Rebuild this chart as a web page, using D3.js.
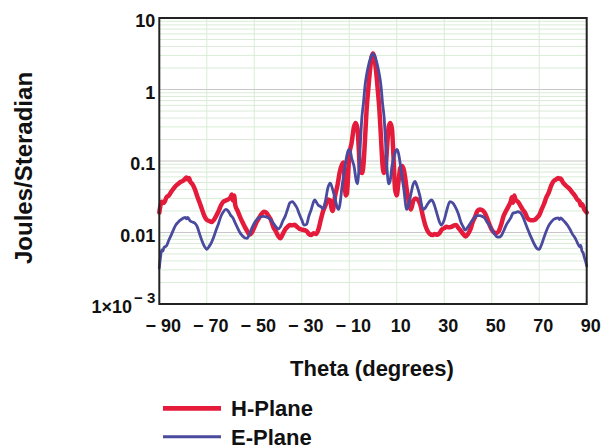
<!DOCTYPE html>
<html>
<head>
<meta charset="utf-8">
<script src="https://cdn.jsdelivr.net/npm/d3@7"></script>
<style>
  body { margin: 0; background: #fff; }
  svg { display: block; font-family: "Liberation Sans", Arial, sans-serif; font-weight: bold; }
</style>
</head>
<body>
<script>
// 차트 크기와 여백
const width = 605;
const height = 447;
const margin = {top: 18, right: 18.3, bottom: 143, left: 159.3};

// H-Plane (빨강) : theta, 값
const hTheta = [-90, -89.5, -89, -88, -87, -86, -85, -84, -83, -82, -81, -80, -79, -78.5, -78, -77.5, -77, -76, -75, -74,
  -73, -72, -71, -70, -69, -68, -67, -66, -65, -64, -63, -62, -61, -60, -59.5, -59, -58.5, -58, -57, -56,
  -55, -54, -53, -52, -51, -50, -49, -48, -47, -46, -45, -44, -43, -42, -41, -40, -39, -38, -37, -36,
  -35, -34, -33, -32, -31, -30, -29, -28, -27, -26, -25, -24, -23, -22, -21, -20, -19, -18, -17.5, -17,
  -16, -15, -14, -13, -12.5, -12, -11.5, -11, -10, -9, -8, -7.3, -6.5, -6, -5.5, -4.6, -4, -3.4, -2.7, -2,
  -1.3, -0.6, 0, 0.6, 1.3, 2, 2.7, 3.4, 4, 4.6, 5.3, 6, 6.6, 7.3, 8, 8.6, 9.3, 10, 10.7, 11.5,
  12.2, 13, 13.5, 14.2, 15, 16, 17, 18, 19, 20, 21, 22, 23, 24, 25, 26, 27, 28, 29, 30,
  31, 32, 33, 34, 35, 36, 37, 38, 39, 40, 41, 42, 43, 44, 45, 46, 47, 48, 49, 50,
  51, 52, 53, 54, 55, 56, 57, 58, 58.5, 59, 59.5, 60, 61, 62, 63, 64, 65, 66, 67, 68,
  69, 70, 71, 72, 73, 74, 75, 76, 77, 78, 78.5, 79, 80, 81, 82, 83, 84, 85, 86, 87,
  87.5, 88, 89, 90];
const hValue = [0.019, 0.024, 0.027, 0.026, 0.031, 0.033, 0.037, 0.041, 0.045, 0.048, 0.051, 0.053, 0.057, 0.059, 0.055, 0.058, 0.052, 0.047, 0.040, 0.032,
  0.026, 0.021, 0.017, 0.015, 0.0145, 0.014, 0.015, 0.0172, 0.020, 0.024, 0.027, 0.028, 0.029, 0.031, 0.034, 0.028, 0.033, 0.024, 0.020, 0.0166,
  0.014, 0.012, 0.0105, 0.0093, 0.010, 0.0118, 0.014, 0.016, 0.018, 0.0195, 0.019, 0.017, 0.015, 0.012, 0.0105, 0.009, 0.0083, 0.0095, 0.011, 0.012,
  0.0127, 0.0126, 0.0128, 0.012, 0.0113, 0.011, 0.0108, 0.0105, 0.0095, 0.0092, 0.0098, 0.0095, 0.011, 0.015, 0.020, 0.024, 0.029, 0.028, 0.022, 0.020,
  0.032, 0.045, 0.07, 0.09, 0.095, 0.06, 0.033, 0.035, 0.12, 0.18, 0.30, 0.34, 0.28, 0.15, 0.075, 0.068, 0.09, 0.19, 0.52, 1.0,
  1.8, 2.8, 3.2, 2.8, 1.8, 1.0, 0.52, 0.2, 0.09, 0.068, 0.08, 0.17, 0.30, 0.34, 0.28, 0.12, 0.04, 0.033, 0.05, 0.08,
  0.085, 0.075, 0.06, 0.04, 0.028, 0.021, 0.028, 0.030, 0.0285, 0.024, 0.017, 0.0127, 0.0105, 0.0095, 0.0092, 0.0095, 0.0093, 0.0098, 0.011, 0.0115,
  0.012, 0.0118, 0.012, 0.0125, 0.0127, 0.0115, 0.0105, 0.0095, 0.0088, 0.0095, 0.011, 0.014, 0.0166, 0.020, 0.021, 0.0205, 0.019, 0.016, 0.013, 0.011,
  0.0100, 0.0098, 0.0105, 0.013, 0.017, 0.020, 0.023, 0.027, 0.031, 0.026, 0.033, 0.029, 0.027, 0.024, 0.021, 0.019, 0.016, 0.015, 0.0148, 0.015,
  0.016, 0.0175, 0.021, 0.025, 0.031, 0.036, 0.045, 0.052, 0.055, 0.058, 0.056, 0.057, 0.050, 0.046, 0.043, 0.040, 0.036, 0.033, 0.029, 0.027,
  0.024, 0.025, 0.021, 0.019];

// E-Plane (파랑)
const eTheta = [-90, -89.5, -89, -88.5, -88, -87, -86, -85, -84, -83, -82, -81, -80, -79, -78.5, -78, -77, -76, -75, -74,
  -73, -72, -71, -70, -69, -68, -67, -66, -65, -64, -63, -62, -61, -60, -59, -58, -57, -56, -55, -54,
  -53, -52, -51, -50, -49, -48, -47, -46, -45, -44, -43, -42, -41, -40, -39, -38, -37, -36, -35, -34,
  -33, -32, -31, -30, -29, -28, -27, -26, -25, -24.5, -24, -23, -22, -21, -20, -19, -18, -17, -16, -15,
  -14.5, -14, -13, -12, -11, -10.2, -9.5, -9, -8, -7, -6.6, -6, -5.3, -4.7, -4, -3.4, -2.7, -2, -1.3, -0.6,
  0, 0.6, 1.3, 2, 2.7, 3.4, 4, 4.7, 5.3, 6, 6.6, 7.2, 8, 9, 10, 10.7, 11.5, 12.2, 13, 14.2,
  15, 16, 17, 17.7, 18.5, 19.8, 21, 22, 23, 24.7, 25.5, 26.8, 28, 28.8, 30, 31, 32.4, 33.5, 34.6, 36,
  37, 38, 38.8, 40, 41, 42, 43, 44, 45, 46, 47, 48, 49, 50, 51, 52, 53, 54, 55, 56,
  57, 58, 59, 60, 61, 62, 63, 64, 65, 66, 67, 68, 69, 70, 71, 72, 73, 74, 75, 76,
  77, 78, 78.5, 79, 80, 81, 82, 83, 84, 85, 86, 87, 87.5, 88, 88.5, 89, 89.5, 90];
const eValue = [0.0032, 0.0045, 0.0057, 0.0055, 0.0062, 0.0065, 0.0078, 0.0092, 0.011, 0.0128, 0.014, 0.015, 0.0158, 0.0163, 0.0155, 0.0162, 0.0145, 0.014, 0.0135, 0.012,
  0.0095, 0.0076, 0.0064, 0.0058, 0.0064, 0.0073, 0.0088, 0.011, 0.0135, 0.017, 0.0195, 0.021, 0.020, 0.0175, 0.016, 0.0135, 0.0115, 0.0099, 0.009, 0.0084,
  0.0083, 0.0095, 0.0115, 0.0135, 0.015, 0.0162, 0.0166, 0.0168, 0.0165, 0.016, 0.015, 0.0135, 0.0122, 0.0112, 0.012, 0.0145, 0.0168, 0.021, 0.026, 0.027,
  0.025, 0.022, 0.018, 0.015, 0.0127, 0.013, 0.017, 0.021, 0.027, 0.0285, 0.027, 0.024, 0.023, 0.0215, 0.028, 0.042, 0.049, 0.040, 0.030, 0.022,
  0.021, 0.024, 0.045, 0.075, 0.12, 0.145, 0.135, 0.11, 0.085, 0.052, 0.048, 0.07, 0.18, 0.4, 0.65, 1.1, 1.6, 2.1, 2.6, 3.0,
  3.2, 3.0, 2.6, 2.1, 1.6, 1.1, 0.65, 0.4, 0.18, 0.07, 0.048, 0.052, 0.085, 0.12, 0.145, 0.13, 0.09, 0.06, 0.04, 0.021,
  0.024, 0.035, 0.048, 0.052, 0.045, 0.032, 0.021, 0.022, 0.025, 0.0285, 0.026, 0.019, 0.014, 0.0127, 0.015, 0.02, 0.027, 0.026, 0.023, 0.018,
  0.014, 0.012, 0.0108, 0.012, 0.0135, 0.015, 0.0166, 0.0172, 0.0172, 0.0168, 0.016, 0.014, 0.0128, 0.011, 0.0098, 0.0088, 0.0086, 0.009, 0.0105, 0.0125,
  0.0142, 0.016, 0.0187, 0.019, 0.0195, 0.019, 0.017, 0.014, 0.0115, 0.0095, 0.008, 0.0068, 0.006, 0.0058, 0.0068, 0.0085, 0.0105, 0.0125, 0.014, 0.0152,
  0.0158, 0.016, 0.0152, 0.016, 0.015, 0.0138, 0.0125, 0.011, 0.0095, 0.0085, 0.0073, 0.0063, 0.0066, 0.0055, 0.0052, 0.0045, 0.004, 0.0034];

// 축 눈금
const xTicks = [-90, -70, -50, -30, -10, 10, 30, 50, 70, 90];
const xGrid = [-70, -50, -30, -10, 10, 30, 50, 70];
const yTicks = [10, 1, 0.1, 0.01, 0.001];
const yTickLabels = ["10", "1", "0.1", "0.01", "1\u00d710"];

const series = [
  {name: "H-Plane", theta: hTheta, value: hValue, color: "#e41b3a", width: 4.5},
  {name: "E-Plane", theta: eTheta, value: eValue, color: "#4a4a9e", width: 2.8}
];

const x = d3.scaleLinear()
  .domain([-90, 90])
  .range([margin.left, width - margin.right]);

const y = d3.scaleLog()
  .domain([0.001, 10])
  .range([height - margin.bottom, margin.top]);

const svg = d3.select("body").append("svg")
  .attr("width", width)
  .attr("height", height);

// 보조 격자 (2..9 배)
const minor = [];
for (let k = -3; k < 1; k++) {
  for (let m = 2; m < 10; m++) minor.push(m * Math.pow(10, k));
}
svg.append("g")
  .selectAll("line")
  .data(minor)
  .join("line")
  .attr("x1", x(-90)).attr("x2", x(90))
  .attr("y1", d => y(d)).attr("y2", d => y(d))
  .attr("stroke", "#d9ecd6")
  .attr("stroke-width", 1);

svg.append("g")
  .selectAll("line")
  .data(xGrid)
  .join("line")
  .attr("x1", d => x(d)).attr("x2", d => x(d))
  .attr("y1", y(10)).attr("y2", y(0.001))
  .attr("stroke", "#d9ecd6")
  .attr("stroke-width", 1);

svg.append("g")
  .selectAll("line")
  .data([1, 0.1, 0.01])
  .join("line")
  .attr("x1", x(-90)).attr("x2", x(90))
  .attr("y1", d => y(d)).attr("y2", d => y(d))
  .attr("stroke", "#c8c8c8")
  .attr("stroke-width", 1.2);

// 곡선
const line = d3.line()
  .x(d => x(d[0]))
  .y(d => y(d[1]))
  .curve(d3.curveMonotoneX);

series.forEach(s => {
  svg.append("path")
    .datum(d3.zip(s.theta, s.value))
    .attr("fill", "none")
    .attr("stroke", s.color)
    .attr("stroke-width", s.width)
    .attr("stroke-linejoin", "round")
    .attr("stroke-linecap", "round")
    .attr("d", line);
});

// 테두리
svg.append("rect")
  .attr("x", x(-90)).attr("y", y(10))
  .attr("width", x(90) - x(-90))
  .attr("height", y(0.001) - y(10))
  .attr("fill", "none")
  .attr("stroke", "#222")
  .attr("stroke-width", 2);

// y축 라벨
const yAxis = g => g
  .attr("transform", `translate(${margin.left},0)`)
  .call(d3.axisLeft(y).tickValues(yTicks).tickSize(0).tickPadding(4)
    .tickFormat((d, i) => yTickLabels[i]))
  .call(g => g.select(".domain").remove())
  .call(g => g.selectAll("text")
    .attr("font-size", 18)
    .attr("font-family", null)
    .attr("fill", "#111")
    .attr("dy", 8.5))
  .call(g => g.select(".tick:last-of-type text")
    .append("tspan")
    .attr("dy", -10)
    .attr("font-size", 15)
    .attr("dx", 2)
    .text("\u2212 3"));

const xAxis = g => g
  .attr("transform", `translate(0,${height - margin.bottom})`)
  .call(d3.axisBottom(x).tickValues(xTicks).tickSize(0).tickPadding(0)
    .tickFormat(d => d < 0 ? "\u2212 " + (-d) : d))
  .call(g => g.select(".domain").remove())
  .call(g => g.selectAll("text")
    .attr("font-size", 18)
    .attr("font-family", null)
    .attr("fill", "#111")
    .attr("dx", 3.5)
    .attr("dy", 0)
    .attr("y", 27.7));

svg.append("g").call(yAxis);
svg.append("g").call(xAxis);

// 축 제목
svg.append("text")
  .attr("x", 372)
  .attr("y", 376)
  .attr("text-anchor", "middle")
  .attr("font-size", 22)
  .attr("fill", "#111")
  .text("Theta (degrees)");

svg.append("text")
  .attr("transform", "translate(32,168) rotate(-90)")
  .attr("text-anchor", "middle")
  .attr("font-size", 24)
  .attr("fill", "#111")
  .text("Joules/Steradian");

// 범례
const legend = svg.append("g");
series.forEach((s, i) => {
  const ly = 408.3 + i * 28.4;
  legend.append("line")
    .attr("x1", 163).attr("x2", 221)
    .attr("y1", ly).attr("y2", ly)
    .attr("stroke", s.color)
    .attr("stroke-width", s.width + 0.3);
  legend.append("text")
    .attr("x", 231)
    .attr("y", ly + 8)
    .attr("font-size", 22)
    .attr("fill", "#111")
    .text(s.name);
});
</script>
</body>
</html>
